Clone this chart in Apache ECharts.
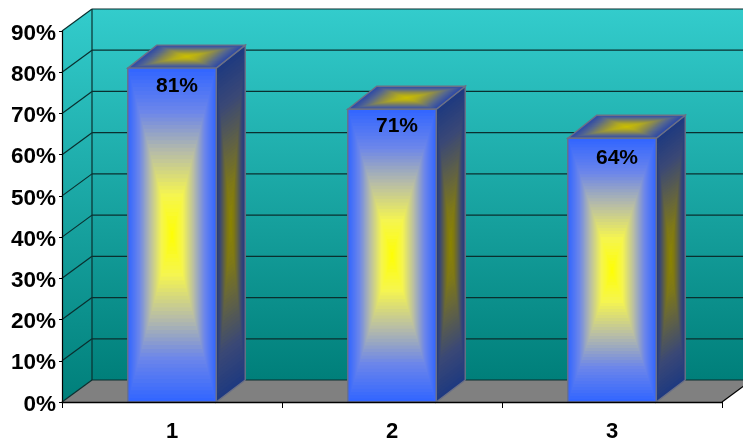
<!DOCTYPE html>
<html>
<head>
<meta charset="utf-8">
<style>html,body{margin:0;padding:0;background:#fff}#chart{width:743px;height:441px}</style>
<script src="https://cdn.jsdelivr.net/npm/echarts@6/dist/echarts.min.js"></script>
</head>
<body>
<div id="chart"></div>
<script>
const categories = ['1', '2', '3'];
const values = [81, 71, 64];
const axisTicks = [0, 10, 20, 30, 40, 50, 60, 70, 80, 90];

// Oblique projection used for the box look
const DEPTH_X = 30;
const DEPTH_Y = 22;
const BAR_BAND_SHARE = 0.402;
const SHADE_STEPS = 44;
const LABEL_SHIFT_X = 5;
const LABEL_DROP = [17.7, 17, 19.7];

const WALL_LINE = '#0a2f2f';
const EDGE = '#6b7086';
const FONT = '"Liberation Sans", Arial, sans-serif';

// Colour ramps run from the centre of a face out to its border
const FRONT_RAMP = ['#ffff00', '#f5f550', '#b9bea5', '#6c86ea', '#3366ff'];
const SIDE_RAMP = ['#8c8400', '#7e7818', '#5e6048', '#3a4876', '#1f3a80'];
const TOP_RAMP = ['#ccc000', '#b4ac1e', '#8a8a50', '#566890', '#2c48a8'];

function shadedFace(points, ramp) {
  const cx = points.reduce((s, p) => s + p[0], 0) / points.length;
  const cy = points.reduce((s, p) => s + p[1], 0) / points.length;
  const parts = [];
  for (let k = 0; k < SHADE_STEPS; k++) {
    const t = 1 - k / SHADE_STEPS;
    parts.push({
      type: 'polygon',
      shape: { points: points.map(p => [cx + (p[0] - cx) * t, cy + (p[1] - cy) * t]) },
      style: { fill: echarts.color.lerp(t, ramp) }
    });
  }
  parts.push({
    type: 'polygon',
    shape: { points: points },
    style: { fill: 'none', stroke: EDGE, lineWidth: 1.4 }
  });
  return parts;
}

// Back wall, left wall and floor of the box
function renderWalls(params, api) {
  const cs = params.coordSys;
  const left = cs.x, right = cs.x + cs.width, top = cs.y, bottom = cs.y + cs.height;
  const wallFill = new echarts.graphic.LinearGradient(0, 0, 0, 1, [
    { offset: 0, color: '#33cccc' },
    { offset: 1, color: '#007f7a' }
  ]);
  const line = { stroke: WALL_LINE, lineWidth: 1.2 };
  return {
    type: 'group',
    children: [
      { type: 'polygon',
        shape: { points: [[left + DEPTH_X, top - DEPTH_Y], [right + DEPTH_X, top - DEPTH_Y], [right + DEPTH_X, bottom - DEPTH_Y], [left + DEPTH_X, bottom - DEPTH_Y]] },
        style: { fill: wallFill } },
      { type: 'polygon',
        shape: { points: [[left, top], [left + DEPTH_X, top - DEPTH_Y], [left + DEPTH_X, bottom - DEPTH_Y], [left, bottom]] },
        style: { fill: wallFill } },
      { type: 'polygon',
        shape: { points: [[left, bottom], [left + DEPTH_X, bottom - DEPTH_Y], [right + DEPTH_X, bottom - DEPTH_Y], [right, bottom]] },
        style: { fill: '#808080' } },
      { type: 'line',
        shape: { x1: left + DEPTH_X, y1: top - DEPTH_Y, x2: left + DEPTH_X, y2: bottom - DEPTH_Y },
        style: line },
      { type: 'line',
        shape: { x1: right, y1: bottom, x2: right + DEPTH_X, y2: bottom - DEPTH_Y },
        style: { stroke: '#000', lineWidth: 1.2 } }
    ]
  };
}

// One gridline per tick: diagonal across the left wall, level across the back wall
function renderGridline(params, api) {
  const p = api.coord([0, api.value(1)]);
  const cs = params.coordSys;
  const x0 = cs.x, x1 = cs.x + DEPTH_X, x2 = cs.x + cs.width + DEPTH_X;
  const y = p[1];
  const line = { stroke: WALL_LINE, lineWidth: 1.2 };
  return {
    type: 'group',
    children: [
      { type: 'line', shape: { x1: x0, y1: y, x2: x1, y2: y - DEPTH_Y }, style: line },
      { type: 'line', shape: { x1: x1, y1: y - DEPTH_Y, x2: x2, y2: y - DEPTH_Y }, style: line }
    ]
  };
}

function renderBar(params, api) {
  const value = api.value(1);
  const topPoint = api.coord([api.value(0), value]);
  const basePoint = api.coord([api.value(0), 0]);
  const half = api.size([1, 0])[0] * BAR_BAND_SHARE / 2;
  const xl = topPoint[0] - half, xr = topPoint[0] + half;
  const yt = topPoint[1], yb = basePoint[1];
  const dx = DEPTH_X - 1, lidRise = DEPTH_Y + 1;
  const front = [[xl, yt], [xr, yt], [xr, yb], [xl, yb]];
  const side = [[xr, yt], [xr + dx, yt - lidRise], [xr + dx, yb - DEPTH_Y], [xr, yb]];
  const lid = [[xl, yt], [xl + dx, yt - lidRise], [xr + dx, yt - lidRise], [xr, yt]];
  return {
    type: 'group',
    children: [
      ...shadedFace(side, SIDE_RAMP),
      ...shadedFace(lid, TOP_RAMP),
      ...shadedFace(front, FRONT_RAMP),
      { type: 'text',
        style: {
          text: value + '%', x: topPoint[0] + LABEL_SHIFT_X, y: yt + LABEL_DROP[params.dataIndex],
          fill: '#000', font: 'bold 21px ' + FONT, align: 'center', verticalAlign: 'middle'
        } }
    ]
  };
}

const chart = echarts.init(document.getElementById('chart'), null, { renderer: 'canvas' });
chart.setOption({
  animation: false,
  backgroundColor: '#ffffff',
  grid: { left: 62, right: 21, top: 31, bottom: 39, containLabel: false, outerBoundsMode: 'none' },
  xAxis: {
    type: 'category',
    data: categories,
    z: 10,
    axisLine: { lineStyle: { color: '#000', width: 1.4 } },
    axisTick: { show: true, length: 6, lineStyle: { color: '#000', width: 1 } },
    axisLabel: { color: '#000', fontWeight: 'bold', fontSize: 22, fontFamily: FONT, margin: 19 }
  },
  yAxis: {
    type: 'value',
    min: axisTicks[0],
    max: axisTicks[axisTicks.length - 1],
    interval: 10,
    z: 10,
    splitLine: { show: false },
    axisLine: { show: true, lineStyle: { color: '#000', width: 1.2 } },
    axisTick: { show: true, length: 3, lineStyle: { color: '#000', width: 1 } },
    axisLabel: { color: '#000', fontWeight: 'bold', fontSize: 22.5, fontFamily: FONT, margin: 6, verticalAlign: 'top', lineHeight: 5, formatter: '{value}%' }
  },
  series: [
    { type: 'custom', name: 'walls', z: 1, silent: true, clip: false, renderItem: renderWalls, data: [[0, 0]], encode: { x: 0, y: 1 } },
    { type: 'custom', name: 'gridlines', z: 2, silent: true, clip: false, renderItem: renderGridline, data: axisTicks.map(t => [0, t]), encode: { x: 0, y: 1 } },
    { type: 'custom', name: 'bars', z: 3, silent: true, clip: false, renderItem: renderBar, data: values.map((v, i) => [i, v]), encode: { x: 0, y: 1 } }
  ]
});
</script>
</body>
</html>
